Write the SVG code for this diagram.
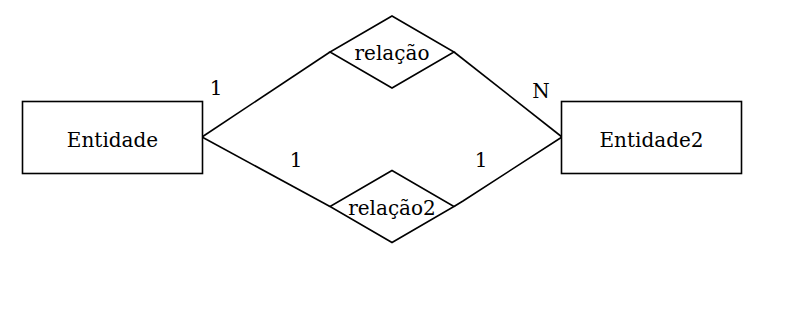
<svg xmlns="http://www.w3.org/2000/svg" width="800" height="309" viewBox="0 0 800 309">
<style>
.shape{fill:#fff;stroke:#000;stroke-width:1.6}
.edge{fill:none;stroke:#000;stroke-width:1.6}
text{font-family:"DejaVu Serif","Liberation Serif",serif;font-size:20px;fill:#000;text-anchor:middle}
</style>
<rect width="800" height="309" fill="#fff"/>
<g id="connectors">
<polyline class="edge" points="202,137 330,52"/>
<polyline class="edge" points="454,52 562,137"/>
<polyline class="edge" points="202,137 330,206.5"/>
<polyline class="edge" points="454,206.5 463,201 562,137"/>
<text x="216" y="95">1</text>
<text x="541" y="98">N</text>
<text x="296" y="167">1</text>
<text x="481" y="167">1</text>
</g>
<g id="entidade">
<rect class="shape" x="22.5" y="101.5" width="180" height="72"/>
<text x="112.5" y="147">Entidade</text>
</g>
<g id="entidade2">
<rect class="shape" x="561.5" y="101.5" width="180" height="72"/>
<text x="651.5" y="147">Entidade2</text>
</g>
<g id="relacao">
<polygon class="shape" points="392,16 454,52 392,88 330,52"/>
<text x="392" y="60">relação</text>
</g>
<g id="relacao2">
<polygon class="shape" points="392,170.5 454,206.5 392,242.5 330,206.5"/>
<text x="392" y="215">relação2</text>
</g>
</svg>
